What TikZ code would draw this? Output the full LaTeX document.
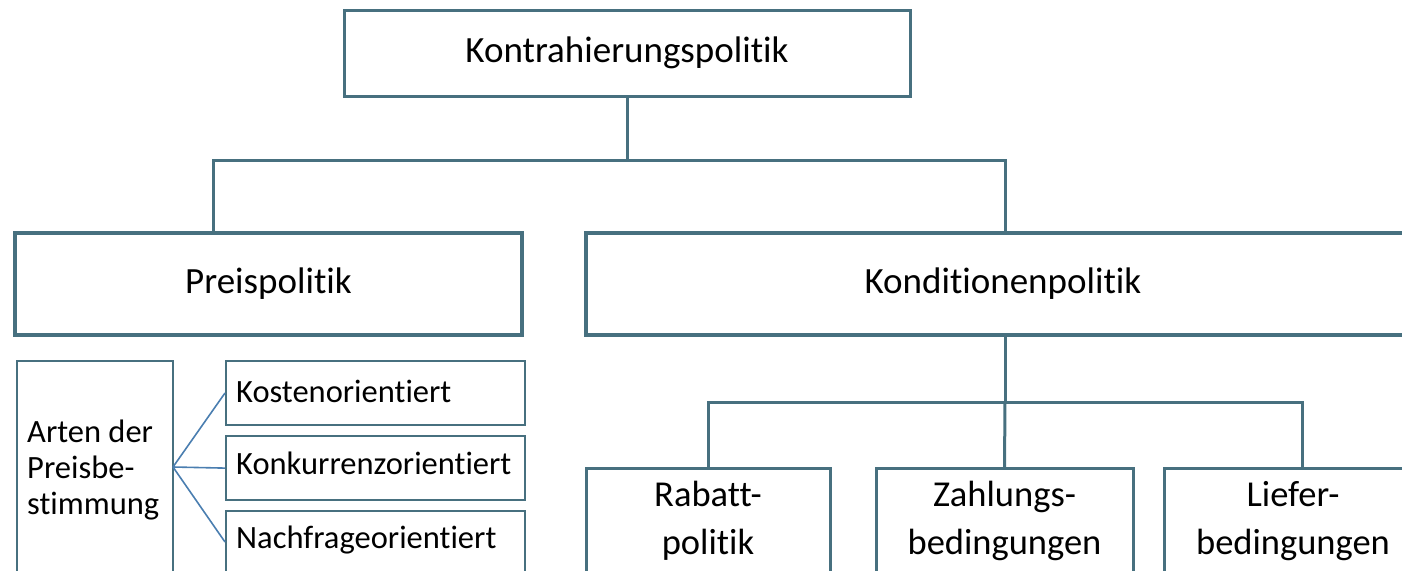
\documentclass[tikz,border=0pt]{standalone}
\usepackage{fontspec}
\setmainfont{Carlito}[Ligatures=CommonOff]
\definecolor{boxc}{HTML}{47707F}
\definecolor{fanc}{HTML}{4A7EB0}
\tikzset{
  base/.style={draw=boxc, inner sep=0pt, align=center},
  bigbox/.style={base, line width=4.5pt, font=\fontsize{37}{44}\selectfont},
  topbox/.style={base, line width=3pt, font=\fontsize{37}{44}\selectfont},
  subbox/.style={base, line width=3pt},
  subtext/.style={inner sep=0pt, align=center, font=\fontsize{36.5}{48}\selectfont},
  smallbox/.style={base, line width=2.2pt},
  smalltext/.style={inner sep=0pt, anchor=base west, font=\fontsize{32.5}{36}\selectfont},
  conn/.style={draw=boxc, line width=3pt},
  fan/.style={draw=fanc, line width=1.6pt}
}
\begin{document}
\begin{tikzpicture}[x=1pt,y=-1pt]
\useasboundingbox (0,0) rectangle (1402,570);
\clip (0,0) rectangle (1402,570);
% top
\node[topbox, minimum width=566pt, minimum height=86pt] (top) at (627,53) {Kontrahierungspolitik};
\node[bigbox, minimum width=507pt, minimum height=102pt] (preis) at (268.5,284) {Preispolitik};
\node[bigbox, minimum width=834pt, minimum height=102pt] (kond) at (1003,284) {Konditionenpolitik};
\coordinate (j1) at (627,160);
\draw[conn] (top.south) -- (j1);
\draw[conn] ([xshift=201pt]preis.north west) |- (j1) -| ([xshift=2pt]kond.north);
% sub boxes
\node[subbox, minimum width=244pt, minimum height=150pt, anchor=north] (rab) at (708,467) {};
\node[subbox, minimum width=257pt, minimum height=150pt, anchor=north] (zahl) at (1004.5,467) {};
\node[subbox, minimum width=258pt, minimum height=150pt, anchor=north] (lief) at (1293,467) {};
\node[subtext] (rabt) at (708,521) {Rabatt-\\politik};
\node[subtext] (zahlt) at (1004.5,521) {Zahlungs-\\bedingungen};
\node[subtext] (lieft) at (1293,521) {Liefer-\\bedingungen};
\coordinate (j2) at (1005,402);
\draw[conn] ([xshift=2pt]kond.south) -- (j2);
\draw[conn] (rab.north) |- (j2) -| ([xshift=9pt]lief.north);
\draw[conn] (j2) -- (zahl.north);
% left detail
\node[smallbox, minimum width=156pt, minimum height=260pt, anchor=north west] (arten) at (16,360) {};
\node[font=\fontsize{32.5}{36}\selectfont, align=left, anchor=north west, inner sep=0pt] (artent) at (27,420) {Arten der\\Preisbe-\\stimmung};
\node[smallbox, minimum width=299pt, minimum height=64pt, anchor=north west] (k1) at (225,360) {};
\node[smallbox, minimum width=299pt, minimum height=64pt, anchor=north west] (k2) at (225,435) {};
\node[smallbox, minimum width=299pt, minimum height=64pt, anchor=north west] (k3) at (225,510) {};
\node[smalltext] (k1t) at (236,402) {Kostenorientiert};
\node[smalltext] (k2t) at (236,474) {Konkurrenzorientiert};
\node[smalltext] (k3t) at (236,548) {Nachfrageorientiert};
\coordinate (fo) at (173,467);
\coordinate (f1) at (225,393);
\coordinate (f3) at (225,542);
\draw[fan] (fo) -- (f1);
\draw[fan] (fo) -- (k2.west);
\draw[fan] (fo) -- (f3);
\end{tikzpicture}
\end{document}
